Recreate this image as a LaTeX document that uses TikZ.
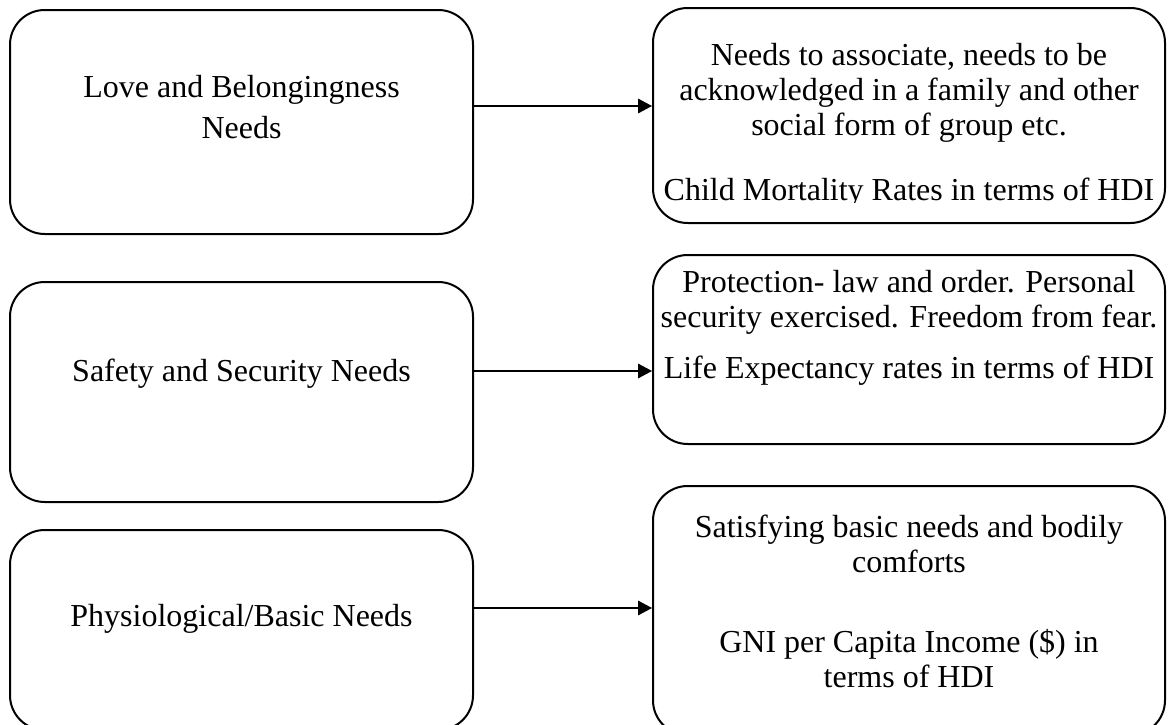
\documentclass[tikz,border=0pt]{standalone}
\usepackage{fontspec}
\setmainfont{Liberation Serif}
\usetikzlibrary{arrows.meta}
\tikzset{
  needbox/.style = {draw, line width=1.5pt, rounded corners=26pt, inner sep=0pt},
  needtxt/.style = {align=center, inner sep=0pt, anchor=north,
                    font=\fontsize{24}{26.25}\selectfont},
  conn/.style    = {-{Triangle[length=10.5pt,width=11pt]}, line width=0.8pt}
}

\begin{document}
\begin{tikzpicture}[x=0.75pt,y=-0.75pt]
  \useasboundingbox (0,0) rectangle (1168,725);
  % --- left column: the needs
  \node[needbox, minimum width=347.25pt, minimum height=168pt] (love)   at (241.5,122) {};
  \node[needbox, minimum width=347.25pt, minimum height=165pt] (safety) at (241.5,392) {};
  \node[needbox, minimum width=347.25pt, minimum height=150pt] (basic)  at (241.5,630) {};
  \node[needtxt, font=\fontsize{24}{30.75}\selectfont] (lovetxt) at (241.5,75)
       {Love and Belongingness\\Needs};
  \node[needtxt] (safetytxt) at (241.5,359) {Safety and Security Needs};
  \node[needtxt] (basictxt)  at (241.5,604) {Physiological/Basic Needs};
  % --- right column: what they mean in terms of HDI
  \node[needbox, minimum width=384pt, minimum height=161.25pt] (hdilove)   at (909,115.5) {};
  \node[needbox, minimum width=384pt, minimum height=141.75pt] (hdisafety) at (909,349.5) {};
  \node[needbox, minimum width=384pt, minimum height=186.75pt] (hdibasic)  at (909,610.5) {};
  \begin{scope}
    % the text box cuts off the last line
    \clip (653,0) rectangle (1165,202);
    \node[needtxt] (hdilovetxt) at (909,43)
         {Needs to associate, needs to be\\acknowledged in a family and other\\
          social form of group etc.\\[22.5pt]Child Mortality Rates in terms of HDI};
  \end{scope}
  \node[needtxt] (hdisafetytxt) at (909,270)
       {Protection- law and order. Personal\\security exercised. Freedom from fear.\\[12pt]
        Life Expectancy rates in terms of HDI};
  \node[needtxt] (hdibasictxt) at (909,515)
       {Satisfying basic needs and bodily\\comforts\\[33.75pt]
        GNI per Capita Income (\$) in\\terms of HDI};
  % --- connectors
  \draw[conn] (love.east |- 0,106)   -- (hdilove.west |- 0,106);
  \draw[conn] (safety.east |- 0,371) -- (hdisafety.west |- 0,371);
  \draw[conn] (basic.east |- 0,608)  -- (hdibasic.west |- 0,608);
\end{tikzpicture}
\end{document}
